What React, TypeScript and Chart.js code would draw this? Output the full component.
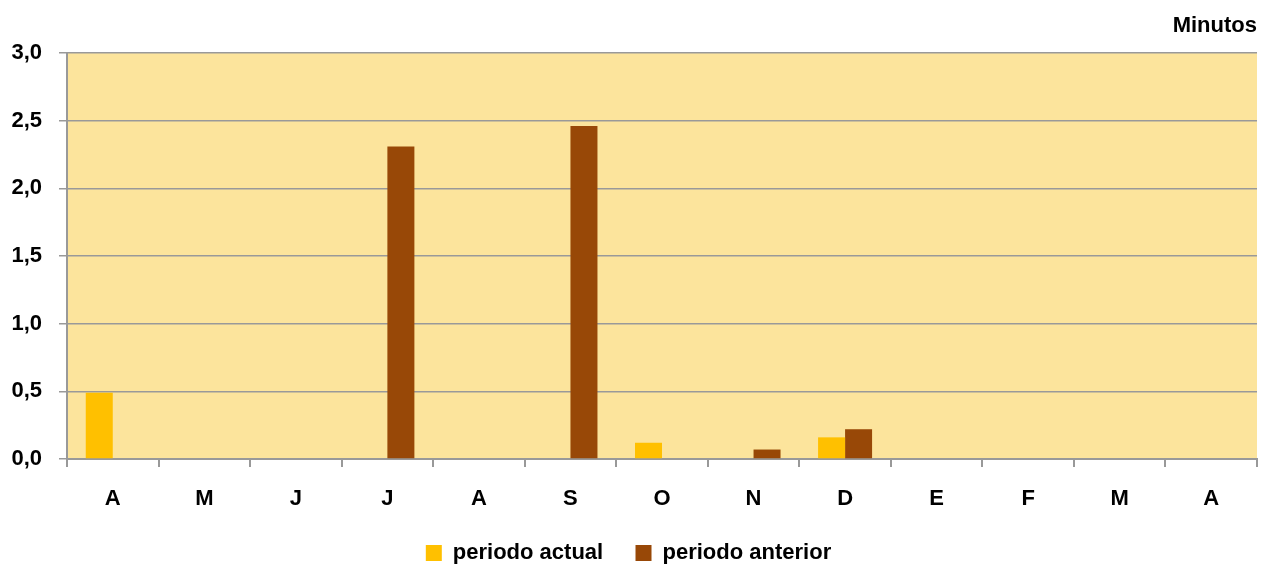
import React, { useEffect, useRef } from "react";
import { Chart, registerables } from "chart.js";

Chart.register(...registerables);

const categories = ["A", "M", "J", "J", "A", "S", "O", "N", "D", "E", "F", "M", "A"];
const periodoActual = [0.49, 0, 0, 0, 0, 0, 0.12, 0, 0.16, 0, 0, 0, 0];
const periodoAnterior = [0, 0, 0, 2.31, 0, 2.46, 0, 0.07, 0.22, 0, 0, 0, 0];
const seriesNames = ["periodo actual", "periodo anterior"];
const unitLabel = "Minutos";

const FONT = "'Liberation Sans', Arial, sans-serif";

const bgPlugin = {
  id: "plotBg",
  beforeDraw(chart: any) {
    const { ctx, chartArea } = chart;
    if (!chartArea) return;
    ctx.save();
    ctx.fillStyle = "#FCE49C";
    ctx.fillRect(chartArea.left, chartArea.top, chartArea.right - chartArea.left, chartArea.bottom - chartArea.top);
    ctx.restore();
  },
};

export default function App() {
  const ref = useRef<HTMLCanvasElement | null>(null);
  useEffect(() => {
    document.body.style.margin = "0";
    const chart = new Chart(ref.current as HTMLCanvasElement, {
      type: "bar",
      data: {
        labels: categories,
        datasets: [
          {
            label: seriesNames[0],
            data: periodoActual,
            backgroundColor: "#FFC000",
            categoryPercentage: 0.59,
            barPercentage: 1,
          },
          {
            label: seriesNames[1],
            data: periodoAnterior,
            backgroundColor: "#984807",
            categoryPercentage: 0.59,
            barPercentage: 1,
          },
        ],
      },
      options: {
        responsive: false,
        animation: false,
        layout: { padding: { left: 0, right: 4, top: 0, bottom: -6 } },
        plugins: {
          title: {
            display: true,
            text: unitLabel,
            align: "end",
            color: "#000",
            font: { family: FONT, size: 22, weight: "bold" },
            padding: { top: 13, bottom: 13.6 },
          },
          legend: {
            position: "bottom",
            labels: {
              color: "#000",
              boxWidth: 16,
              boxHeight: 16,
              padding: 14,
              font: { family: FONT, size: 22, weight: "bold" },
              generateLabels: (c: any) => {
                const items = Chart.defaults.plugins.legend.labels.generateLabels(c);
                return items.map((it: any, i: number) => ({
                  ...it,
                  text: i === 0 ? it.text + "   " : it.text,
                  lineWidth: 0,
                }));
              },
            },
          },
          tooltip: { enabled: false },
        },
        scales: {
          x: {
            offset: true,
            afterFit: (scale: any) => {
              scale.height = 69;
            },
            grid: {
              display: true,
              drawOnChartArea: false,
              offset: true,
              color: "#999",
              lineWidth: 2,
              tickLength: 8,
            },
            border: { color: "#999", width: 2 },
            ticks: {
              color: "#000",
              padding: 19,
              font: { family: FONT, size: 22, weight: "bold" },
            },
          },
          y: {
            min: 0,
            max: 3,
            afterFit: (scale: any) => {
              scale.width = 67;
            },
            grid: { color: "#999", lineWidth: 1.5, tickLength: 8 },
            border: { color: "#999", width: 2 },
            ticks: {
              stepSize: 0.5,
              color: "#000",
              padding: 17,
              font: { family: FONT, size: 22, weight: "bold" },
              callback: (v: any) => Number(v).toFixed(1).replace(".", ","),
            },
          },
        },
      },
      plugins: [bgPlugin],
    });
    return () => chart.destroy();
  }, []);
  return (
    <div style={{ width: 1261, height: 568 }}>
      <canvas ref={ref} width={1261} height={568} style={{ display: "block" }} />
    </div>
  );
}
